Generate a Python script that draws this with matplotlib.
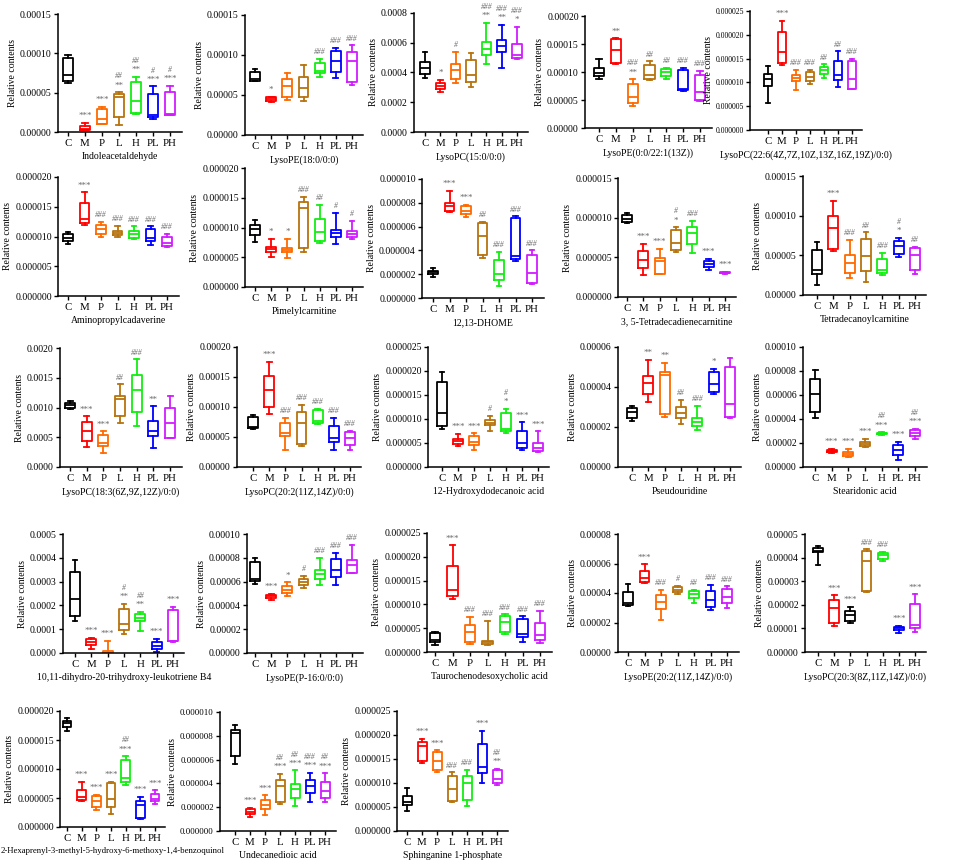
import numpy as np
import matplotlib
matplotlib.use("Agg")
import matplotlib.pyplot as plt
from matplotlib.ticker import FormatStrFormatter, MultipleLocator

plt.rcParams["font.family"] = ["Liberation Serif", "DejaVu Serif"]

W, H = 955, 865
groups = ["C", "M", "P", "L", "H", "PL", "PH"]
colors = ["#000000", "#ff0000", "#ff6a00", "#b8730e", "#11ee11", "#0000ff", "#d21cff"]

titles = [
    "Indoleacetaldehyde", "LysoPE(18:0/0:0)", "LysoPC(15:0/0:0)", "LysoPE(0:0/22:1(13Z))",
    "LysoPC(22:6(4Z,7Z,10Z,13Z,16Z,19Z)/0:0)",
    "Aminopropylcadaverine", "Pimelylcarnitine", "12,13-DHOME", "3, 5-Tetradecadienecarnitine",
    "Tetradecanoylcarnitine",
    "LysoPC(18:3(6Z,9Z,12Z)/0:0)", "LysoPC(20:2(11Z,14Z)/0:0)", "12-Hydroxydodecanoic acid",
    "Pseudouridine", "Stearidonic acid",
    "10,11-dihydro-20-trihydroxy-leukotriene B4", "LysoPE(P-16:0/0:0)",
    "Taurochenodesoxycholic acid", "LysoPE(20:2(11Z,14Z)/0:0)", "LysoPC(20:3(8Z,11Z,14Z)/0:0)",
    "2-Hexaprenyl-3-methyl-5-hydroxy-6-methoxy-1,4-benzoquinol", "Undecanedioic acid",
    "Sphinganine 1-phosphate",
]

# y axis: top value, tick step, decimals in tick labels
y_top = [0.00015, 0.00015, 0.0008, 0.0002, 0.000025,
         0.00002, 0.00002, 0.00001, 0.000015, 0.00015,
         0.002, 0.0002, 0.000025, 0.00006, 0.0001,
         0.0005, 0.0001, 0.000025, 0.00008, 0.00005,
         0.00002, 0.00001, 0.000025]
y_step = [0.00005, 0.00005, 0.0002, 0.00005, 0.000005,
          0.000005, 0.000005, 0.000002, 0.000005, 0.00005,
          0.0005, 0.00005, 0.000005, 0.00002, 0.00002,
          0.0001, 0.00002, 0.000005, 0.00002, 0.00001,
          0.000005, 0.000002, 0.000005]
y_dec = [5, 5, 4, 5, 6, 6, 6, 6, 6, 5, 4, 5, 6, 5, 5, 4, 5, 6, 5, 5, 6, 6, 6]

# box stats per group: whisker low, q1, median, q3, whisker high
indoleacetaldehyde = np.array([[6.2, 6.5, 7.3, 9.4, 9.8], [0.2, 0.25, 0.4, 0.7, 1.2],
                               [1.0, 1.05, 1.6, 2.9, 3.2], [0.9, 1.9, 4.5, 4.85, 5.05],
                               [2.3, 2.4, 3.9, 6.4, 7.05], [1.7, 1.9, 2.2, 4.85, 5.8],
                               [2.1, 2.2, 2.3, 5.05, 5.9]]) * 1e-5
lysope_18_0 = np.array([[6.7, 6.8, 7.0, 7.9, 8.2], [4.1, 4.3, 4.5, 4.7, 4.8],
                        [4.4, 4.7, 6.1, 7.0, 7.8], [4.2, 4.8, 5.9, 7.3, 8.7],
                        [7.2, 7.7, 8.0, 9.0, 9.5], [7.1, 7.9, 9.3, 10.5, 10.9],
                        [6.3, 6.6, 9.2, 10.4, 11.2]]) * 1e-5
lysopc_15_0 = np.array([[3.6, 3.9, 4.3, 4.7, 5.4], [2.7, 2.9, 3.1, 3.3, 3.5],
                        [3.3, 3.55, 4.2, 4.6, 5.4], [3.0, 3.35, 3.85, 4.85, 5.3],
                        [4.6, 5.2, 5.6, 6.05, 7.35], [4.3, 5.4, 5.8, 6.2, 7.2],
                        [4.9, 5.0, 5.2, 5.9, 7.05]]) * 1e-4
lysope_22_1 = np.array([[8.7, 9.3, 9.9, 10.7, 12.4], [11.4, 11.6, 13.9, 15.9, 16.0],
                        [4.0, 4.4, 5.6, 7.8, 8.7], [8.5, 8.8, 9.5, 11.2, 11.9],
                        [8.7, 9.2, 10.0, 10.6, 10.8], [6.6, 6.8, 6.9, 10.4, 10.8],
                        [4.8, 5.0, 6.5, 9.4, 10.2]]) * 1e-5
lysopc_22_6 = np.array([[0.56, 0.93, 1.08, 1.18, 1.34], [1.37, 1.40, 1.63, 2.05, 2.29],
                        [0.83, 1.02, 1.09, 1.16, 1.26], [0.97, 1.02, 1.12, 1.22, 1.26],
                        [1.09, 1.18, 1.27, 1.33, 1.38], [0.91, 1.05, 1.16, 1.45, 1.65],
                        [0.86, 0.87, 1.07, 1.44, 1.50]]) * 1e-5
aminopropylcadaverine = np.array([[0.88, 0.93, 0.98, 1.04, 1.07], [1.19, 1.23, 1.29, 1.57, 1.74],
                                  [1.00, 1.05, 1.12, 1.19, 1.24], [0.99, 1.02, 1.06, 1.09, 1.18],
                                  [0.96, 0.97, 1.04, 1.10, 1.17], [0.86, 0.92, 0.97, 1.13, 1.17],
                                  [0.82, 0.84, 0.89, 0.99, 1.04]]) * 1e-5
pimelylcarnitine = np.array([[0.75, 0.88, 0.97, 1.05, 1.12], [0.50, 0.59, 0.64, 0.68, 0.81],
                             [0.49, 0.58, 0.63, 0.66, 0.81], [0.59, 0.65, 1.33, 1.43, 1.51],
                             [0.74, 0.77, 0.92, 1.14, 1.38], [0.72, 0.84, 0.90, 0.95, 1.25],
                             [0.80, 0.84, 0.89, 0.94, 1.11]]) * 1e-5
dhome = np.array([[1.75, 2.0, 2.15, 2.3, 2.5], [7.2, 7.35, 7.75, 8.0, 9.0],
                  [6.8, 7.05, 7.35, 7.7, 7.85], [3.4, 3.6, 5.2, 6.3, 6.4],
                  [1.0, 1.5, 2.05, 3.2, 3.9], [3.1, 3.25, 3.55, 6.75, 6.85],
                  [1.2, 1.3, 2.1, 3.65, 4.0]]) * 1e-6
tetradecadienecarnitine = np.array([[9.3, 9.4, 9.8, 10.3, 10.6], [2.8, 3.7, 4.7, 5.8, 6.7],
                                    [2.9, 2.9, 4.5, 4.9, 6.1], [5.7, 5.9, 6.8, 8.5, 8.8],
                                    [5.5, 6.7, 8.1, 8.8, 9.6], [3.4, 3.8, 4.2, 4.6, 4.8],
                                    [2.95, 3.0, 3.05, 3.1, 3.2]]) * 1e-6
tetradecanoylcarnitine = np.array([[1.3, 2.7, 3.2, 5.7, 6.7], [5.6, 5.8, 8.4, 10.0, 11.9],
                                   [2.2, 2.8, 4.0, 5.0, 6.9], [1.6, 3.0, 4.9, 7.0, 7.9],
                                   [2.5, 2.8, 3.2, 4.6, 5.3], [4.8, 5.2, 6.2, 6.8, 7.2],
                                   [2.6, 3.2, 5.0, 5.9, 6.1]]) * 1e-5
lysopc_18_3 = np.array([[0.98, 1.00, 1.04, 1.08, 1.11], [0.34, 0.44, 0.60, 0.76, 0.85],
                        [0.24, 0.35, 0.40, 0.53, 0.60], [0.74, 0.85, 1.14, 1.20, 1.39],
                        [0.69, 0.92, 1.30, 1.54, 1.81], [0.32, 0.52, 0.61, 0.77, 1.02],
                        [0.48, 0.49, 0.74, 1.00, 1.20]]) * 1e-3
lysopc_20_2 = np.array([[6.3, 6.5, 6.6, 8.4, 8.7], [8.9, 10.0, 12.8, 15.2, 17.5],
                        [2.8, 5.1, 5.6, 7.4, 8.2], [3.5, 3.9, 7.3, 9.2, 10.4],
                        [7.1, 7.4, 7.7, 9.5, 9.7], [2.8, 4.2, 4.8, 6.9, 8.2],
                        [2.9, 3.6, 4.9, 5.8, 6.0]]) * 1e-5
hydroxydodecanoic = np.array([[0.79, 0.86, 1.13, 1.78, 1.98], [0.43, 0.48, 0.54, 0.58, 0.69],
                              [0.35, 0.46, 0.53, 0.65, 0.70], [0.75, 0.87, 0.92, 0.98, 1.06],
                              [0.70, 0.75, 0.79, 1.13, 1.21], [0.35, 0.40, 0.50, 0.74, 0.93],
                              [0.32, 0.33, 0.40, 0.51, 0.74]]) * 1e-5
pseudouridine = np.array([[2.3, 2.45, 2.75, 2.95, 3.05], [3.25, 3.65, 4.2, 4.55, 5.35],
                          [2.5, 2.65, 4.6, 4.75, 5.2], [2.15, 2.45, 2.7, 3.0, 3.35],
                          [1.85, 2.05, 2.25, 2.45, 3.05], [3.65, 3.75, 4.15, 4.75, 4.9],
                          [2.45, 2.5, 3.15, 5.0, 5.45]]) * 1e-5
stearidonic = np.array([[4.1, 4.6, 6.1, 7.3, 8.1], [1.2, 1.25, 1.35, 1.45, 1.5],
                        [0.8, 0.95, 1.1, 1.25, 1.5], [1.65, 1.75, 1.9, 2.05, 2.35],
                        [2.7, 2.75, 2.8, 2.85, 2.9], [0.6, 1.0, 1.4, 1.8, 2.1],
                        [2.35, 2.55, 2.85, 3.05, 3.2]]) * 1e-5
leukotriene = np.array([[1.35, 1.55, 2.25, 3.42, 3.92], [0.15, 0.35, 0.45, 0.58, 0.63],
                        [0.0, 0.0, 0.02, 0.08, 0.52], [0.8, 0.95, 1.2, 1.83, 2.07],
                        [0.93, 1.33, 1.48, 1.62, 1.73], [0.05, 0.15, 0.3, 0.45, 0.6],
                        [0.48, 0.5, 0.5, 1.8, 1.95]]) * 1e-4
lysope_p16 = np.array([[5.8, 6.05, 6.2, 7.65, 8.0], [4.45, 4.65, 4.8, 4.9, 5.0],
                       [4.75, 5.05, 5.3, 5.6, 5.95], [5.5, 5.75, 6.0, 6.2, 6.45],
                       [5.7, 6.2, 6.6, 7.0, 8.0], [5.7, 6.4, 7.0, 7.9, 8.4],
                       [6.7, 6.75, 7.4, 7.85, 9.1]]) * 1e-5
taurochenodesoxycholic = np.array([[0.15, 0.2, 0.25, 0.4, 0.42], [1.12, 1.17, 1.31, 1.81, 2.24],
                                   [0.16, 0.2, 0.43, 0.57, 0.74], [0.14, 0.17, 0.2, 0.24, 0.65],
                                   [0.37, 0.43, 0.62, 0.76, 0.79], [0.21, 0.31, 0.37, 0.70, 0.75],
                                   [0.18, 0.25, 0.36, 0.60, 0.87]]) * 1e-5
lysope_20_2 = np.array([[3.15, 3.2, 3.3, 4.05, 4.6], [4.65, 4.75, 5.05, 5.5, 5.95],
                        [2.2, 2.9, 3.4, 3.85, 4.2], [3.95, 4.05, 4.2, 4.4, 4.5],
                        [3.35, 3.65, 3.95, 4.15, 4.2], [2.85, 3.05, 3.5, 4.15, 4.55],
                        [2.95, 3.35, 3.75, 4.3, 4.45]]) * 1e-5
lysopc_20_3 = np.array([[3.7, 4.25, 4.3, 4.4, 4.5], [1.1, 1.25, 1.85, 2.2, 2.4],
                        [1.25, 1.3, 1.55, 1.75, 1.9], [2.55, 2.6, 3.85, 4.3, 4.35],
                        [3.85, 3.95, 4.1, 4.2, 4.25], [0.8, 0.95, 1.0, 1.05, 1.1],
                        [0.85, 1.0, 1.15, 2.05, 2.45]]) * 1e-5
benzoquinol = np.array([[1.65, 1.73, 1.8, 1.83, 1.88], [0.45, 0.47, 0.52, 0.63, 0.78],
                        [0.3, 0.35, 0.45, 0.53, 0.55], [0.22, 0.35, 0.49, 0.76, 0.78],
                        [0.73, 0.78, 0.84, 1.16, 1.22], [0.13, 0.15, 0.38, 0.44, 0.52],
                        [0.4, 0.44, 0.48, 0.57, 0.63]]) * 1e-5
undecanedioic = np.array([[5.6, 6.3, 8.2, 8.5, 8.9], [1.15, 1.4, 1.6, 1.85, 1.95],
                          [1.35, 1.85, 2.15, 2.6, 3.0], [2.3, 2.4, 3.8, 4.3, 4.8],
                          [2.1, 2.8, 3.5, 3.95, 5.1], [2.45, 3.2, 3.75, 4.25, 4.9],
                          [2.4, 2.75, 3.4, 4.1, 4.85]]) * 1e-6
sphinganine = np.array([[0.42, 0.55, 0.6, 0.73, 0.9], [1.41, 1.45, 1.78, 1.85, 1.92],
                        [1.22, 1.28, 1.45, 1.65, 1.68], [0.6, 0.63, 0.88, 1.15, 1.22],
                        [0.52, 0.65, 1.0, 1.15, 1.28], [1.0, 1.2, 1.33, 1.81, 2.08],
                        [0.96, 1.0, 1.09, 1.27, 1.29]]) * 1e-5

panel_data = [indoleacetaldehyde, lysope_18_0, lysopc_15_0, lysope_22_1, lysopc_22_6,
              aminopropylcadaverine, pimelylcarnitine, dhome, tetradecadienecarnitine,
              tetradecanoylcarnitine, lysopc_18_3, lysopc_20_2, hydroxydodecanoic,
              pseudouridine, stearidonic, leukotriene, lysope_p16, taurochenodesoxycholic,
              lysope_20_2, lysopc_20_3, benzoquinol, undecanedioic, sphinganine]

# significance marks vs C (stars) and vs M (hashes)
stars = [
    ["", "***", "***", "**", "**", "***", "***"],
    ["", "*", "", "", "", "", ""],
    ["", "*", "", "", "**", "**", "*"],
    ["", "**", "**", "", "", "", ""],
    ["", "***", "", "", "", "", ""],
    ["", "***", "", "", "", "", ""],
    ["", "*", "*", "", "", "", ""],
    ["", "***", "***", "", "", "", ""],
    ["", "***", "***", "*", "", "***", "***"],
    ["", "***", "", "", "", "*", ""],
    ["", "***", "***", "", "", "**", ""],
    ["", "***", "", "", "", "", ""],
    ["", "***", "***", "", "*", "***", "***"],
    ["", "**", "**", "", "", "*", ""],
    ["", "***", "***", "***", "***", "***", "***"],
    ["", "***", "***", "**", "**", "***", "***"],
    ["", "***", "*", "", "", "", ""],
    ["", "***", "", "", "", "", ""],
    ["", "***", "", "", "", "", ""],
    ["", "***", "***", "", "", "***", "***"],
    ["", "***", "***", "***", "***", "***", "***"],
    ["", "***", "***", "***", "***", "***", "***"],
    ["", "***", "***", "", "", "***", "**"],
]
hashes = [
    ["", "", "", "##", "##", "#", "#"],
    ["", "", "", "", "###", "###", "###"],
    ["", "", "#", "", "###", "###", "###"],
    ["", "", "###", "##", "##", "###", "###"],
    ["", "", "###", "###", "##", "##", "###"],
    ["", "", "###", "###", "###", "###", "###"],
    ["", "", "", "###", "##", "#", "#"],
    ["", "", "", "##", "###", "###", "###"],
    ["", "", "", "#", "###", "", ""],
    ["", "", "###", "##", "###", "#", "##"],
    ["", "", "", "##", "###", "", ""],
    ["", "", "###", "###", "###", "###", "###"],
    ["", "", "", "#", "#", "", ""],
    ["", "", "", "##", "###", "", ""],
    ["", "", "", "", "##", "", "##"],
    ["", "", "", "#", "##", "", ""],
    ["", "", "", "#", "###", "###", "###"],
    ["", "", "###", "###", "###", "###", "###"],
    ["", "", "###", "#", "##", "###", "###"],
    ["", "", "", "###", "###", "", ""],
    ["", "", "", "", "##", "", ""],
    ["", "", "", "##", "##", "###", "##"],
    ["", "", "", "###", "###", "", "##"],
]

# panel layout in pixels: y-spine x, x of C, x of PH, top y, bottom y
layout = [
    (58, 68, 170, 14, 132), (245, 255, 352, 15, 135), (414, 425, 517, 13, 132),
    (585, 599, 700, 16, 128), (750, 768, 852, 11, 130),
    (58, 68, 167, 177, 296), (245, 255, 352, 168, 287), (422, 433, 532, 179, 298),
    (618, 627, 725, 178, 297), (803, 817, 915, 176, 295),
    (60, 70, 170, 348, 467), (237, 253, 350, 347, 467), (428, 442, 538, 347, 467),
    (618, 632, 730, 347, 467), (803, 815, 915, 347, 467),
    (63, 75, 173, 534, 653), (247, 255, 352, 534, 653), (427, 435, 540, 533, 652),
    (618, 628, 727, 534, 652), (805, 818, 915, 534, 652),
    (60, 67, 155, 711, 827), (220, 235, 325, 712, 831), (397, 407, 497, 711, 831),
]
tick_size = [7] * 23
tick_size[4] = 5.6
tick_size[21] = 6.4
title_size = [7] * 23
title_size[20] = 6.3

fig = plt.figure(figsize=(W / 100, H / 100), dpi=100)
mark_col = "#6a6a6a"

for k in range(23):
    x0, xc, xph, yt, yb = layout[k]
    s = (xph - xc) / 6
    left = -(xc - x0) / s
    right = 6.7
    wpx = (right - left) * s
    ax = fig.add_axes([x0 / W, 1 - yb / H, wpx / W, (yb - yt) / H])
    d = panel_data[k]
    stats = [dict(whislo=r[0], q1=r[1], med=r[2], q3=r[3], whishi=r[4], fliers=[]) for r in d]
    art = ax.bxp(stats, positions=range(7), widths=0.6, capwidths=0.3, showfliers=False)
    cols = list(colors)
    if k == 19:
        cols[2] = "#000000"
    for i, c in enumerate(cols):
        art["boxes"][i].set(color=c, linewidth=1.3)
        art["medians"][i].set(color=c, linewidth=1.3)
        for j in (2 * i, 2 * i + 1):
            art["whiskers"][j].set(color=c, linewidth=1.3)
            art["caps"][j].set(color=c, linewidth=1.3)
    ax.set_xlim(left, right)
    ax.set_ylim(0, y_top[k])
    ax.yaxis.set_major_locator(MultipleLocator(y_step[k]))
    ax.yaxis.set_major_formatter(FormatStrFormatter("%%.%df" % y_dec[k]))
    ax.set_xticks(range(7))
    ax.set_xticklabels(groups, fontsize=7.8)
    ax.tick_params(axis="y", labelsize=tick_size[k], length=3, width=1, pad=1.5)
    ax.tick_params(axis="x", length=3, width=1, pad=2)
    for sp in ("top", "right"):
        ax.spines[sp].set_visible(False)
    for sp in ("left", "bottom"):
        ax.spines[sp].set_linewidth(1.1)
    ax.set_ylabel("Relative contents", fontsize=7, labelpad=2)
    if k == 4:
        ax.yaxis.set_label_coords(-37 / wpx, 0.5)
    ax.set_xlabel(titles[k], fontsize=title_size[k], labelpad=3)
    for i in range(7):
        top = d[i][4]
        off = 2
        if stars[k][i]:
            ax.annotate(stars[k][i], (i, top), xytext=(0, off), textcoords="offset points",
                        ha="center", va="bottom", fontsize=6.5, color=mark_col)
            off += 6.5
        if hashes[k][i]:
            ax.annotate(hashes[k][i], (i, top), xytext=(0, off), textcoords="offset points",
                        ha="center", va="bottom", fontsize=5.5, color=mark_col,
                        style="italic")

fig.savefig("out.png", dpi=100)
